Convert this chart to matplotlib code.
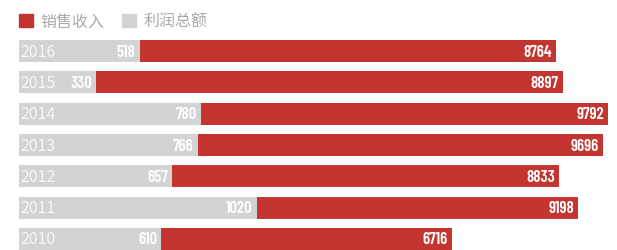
import numpy as np
import matplotlib
matplotlib.use('Agg')
import matplotlib.pyplot as plt
from matplotlib.patches import Patch

plt.rcParams['font.family'] = ['Noto Sans CJK SC', 'DejaVu Sans']

# data, bottom row first
years = ['2010', '2011', '2012', '2013', '2014', '2015', '2016']
sales = [6716, 9198, 8833, 9696, 9792, 8897, 8764]   # 销售收入
profit = [610, 1020, 657, 766, 780, 330, 518]        # 利润总额

RED = '#c23531'
GREY = '#d3d3d3'

W, H = 617, 251
fig = plt.figure(figsize=(W / 100, H / 100), dpi=100)

# axes in pixel layout: 31.33 px per row, bars 22 px tall
row = 31.33
ax_left, ax_bottom = 19, 11 - 0.5 * row
ax = fig.add_axes([ax_left / W, ax_bottom / H, (W - ax_left) / W, 7 * row / H])
ax2 = ax.twiny()

y = np.arange(len(years))
bh = 22 / row

# the two series sit on their own value scales
sales_min, sales_max = -1822, 9968
profit_max = 2566

ax.barh(y, np.array(sales) - sales_min, left=sales_min, height=bh, color=RED)
ax.set_xlim(sales_min, sales_max)
ax2.barh(y, profit, height=bh, color=GREY)
ax2.set_xlim(0, profit_max)
ax.set_ylim(-0.5, 6.5)

for a in (ax, ax2):
    a.set_axis_off()
    a.patch.set_visible(False)

num_font = dict(family='Barlow Condensed', weight=600, size=12, color='white')
for i in range(len(years)):
    ax.annotate(str(sales[i]), (sales[i], y[i]), xytext=(-4, 0), textcoords='offset pixels',
                ha='right', va='center', **num_font)
    ax2.annotate(str(profit[i]), (profit[i], y[i]), xytext=(-4, 0), textcoords='offset pixels',
                 ha='right', va='center', **num_font)
    ax2.annotate(years[i], (0, y[i]), xytext=(1, 0), textcoords='offset pixels',
                 ha='left', va='center', fontsize=11.5, color='#f7f7f7')

handles = [Patch(color=RED, label='销售收入'), Patch(color=GREY, label='利润总额')]
fig.legend(handles=handles, loc='upper left', bbox_to_anchor=(16 / W, 1 - 11 / H),
           ncol=2, frameon=False, fontsize=11.5, labelcolor='#aaaaaa',
           handlelength=0.85, handleheight=0.85, handletextpad=0.5, columnspacing=1.1,
           borderaxespad=0, borderpad=0.2)

fig.savefig('out.png', dpi=100)
